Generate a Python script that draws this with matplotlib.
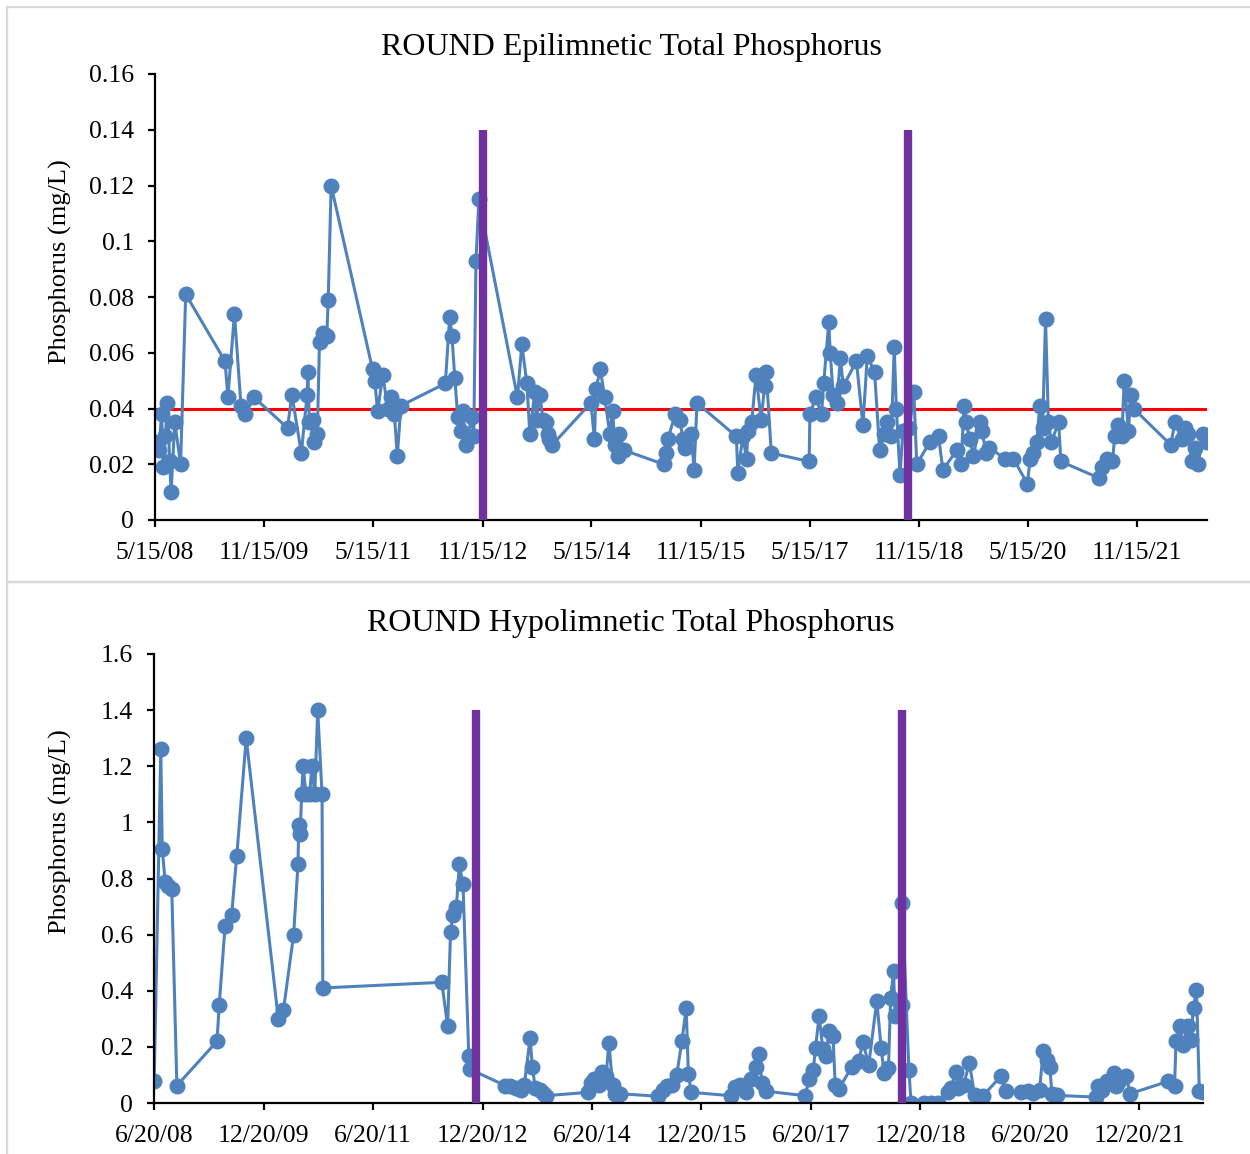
import numpy as np
import pandas as pd
import matplotlib
matplotlib.use('Agg')
import matplotlib.pyplot as plt
from matplotlib.patches import Rectangle
from matplotlib.ticker import FuncFormatter

plt.rcParams['font.family'] = ['Liberation Serif', 'DejaVu Serif']

# Epilimnetic TP: sampling date (decimal year) and value (mg/L)
epi_year = [2008.37, 2008.42, 2008.46, 2008.48, 2008.51, 2008.54, 2008.57, 2008.59, 2008.64, 2008.72, 2008.79,
            2009.33, 2009.37, 2009.46, 2009.55, 2009.61, 2009.73,
            2010.19, 2010.25, 2010.38, 2010.46, 2010.47, 2010.49, 2010.54, 2010.56, 2010.60, 2010.63, 2010.68,
            2010.73, 2010.75, 2010.79,
            2011.36, 2011.39, 2011.43, 2011.50, 2011.57, 2011.62, 2011.66, 2011.70, 2011.75,
            2012.36, 2012.42, 2012.45, 2012.49, 2012.53, 2012.57, 2012.60, 2012.65, 2012.72, 2012.75, 2012.78, 2012.82,
            2013.35, 2013.41, 2013.48, 2013.52, 2013.59, 2013.61, 2013.66, 2013.70, 2013.74, 2013.77, 2013.79, 2013.83,
            2014.36, 2014.41, 2014.43, 2014.49, 2014.55, 2014.62, 2014.66, 2014.69, 2014.73, 2014.75, 2014.82,
            2015.36, 2015.40, 2015.42, 2015.52, 2015.58, 2015.63, 2015.66, 2015.74, 2015.78, 2015.82,
            2016.36, 2016.38, 2016.45, 2016.50, 2016.52, 2016.57, 2016.63, 2016.70, 2016.75, 2016.77, 2016.84,
            2017.36, 2017.37, 2017.45, 2017.53, 2017.56, 2017.63, 2017.65, 2017.69, 2017.74, 2017.79, 2017.83,
            2018.01, 2018.10, 2018.16, 2018.26, 2018.33, 2018.39, 2018.43, 2018.49, 2018.53, 2018.56, 2018.61,
            2018.65, 2018.74, 2018.80, 2018.84,
            2019.02, 2019.14, 2019.20, 2019.39, 2019.45, 2019.49, 2019.52, 2019.57, 2019.62, 2019.71, 2019.74,
            2019.79, 2019.84,
            2020.05, 2020.17, 2020.36, 2020.40, 2020.44, 2020.49, 2020.53, 2020.57, 2020.61, 2020.65, 2020.69,
            2020.79, 2020.82,
            2021.35, 2021.38, 2021.45, 2021.53, 2021.56, 2021.61, 2021.66, 2021.69, 2021.75, 2021.78, 2021.82,
            2022.33, 2022.39, 2022.48, 2022.53, 2022.57, 2022.62, 2022.67, 2022.71, 2022.77, 2022.83]
epi_tp = [0.028, 0.025, 0.038, 0.019, 0.030, 0.042, 0.021, 0.010, 0.035, 0.020, 0.081,
          0.057, 0.044, 0.074, 0.041, 0.038, 0.044,
          0.033, 0.045, 0.024, 0.045, 0.053, 0.035, 0.036, 0.028, 0.031, 0.064, 0.067, 0.066, 0.079, 0.120,
          0.054, 0.050, 0.039, 0.052, 0.040, 0.044, 0.038, 0.023, 0.041,
          0.049, 0.073, 0.066, 0.051, 0.037, 0.032, 0.039, 0.027, 0.037, 0.030, 0.093, 0.115,
          0.044, 0.063, 0.049, 0.031, 0.046, 0.036, 0.045, 0.036, 0.035, 0.031, 0.029, 0.027,
          0.042, 0.029, 0.047, 0.054, 0.044, 0.031, 0.039, 0.027, 0.023, 0.031, 0.025,
          0.020, 0.024, 0.029, 0.038, 0.036, 0.029, 0.026, 0.031, 0.018, 0.042,
          0.030, 0.017, 0.030, 0.022, 0.032, 0.035, 0.052, 0.036, 0.048, 0.053, 0.024,
          0.021, 0.038, 0.044, 0.038, 0.049, 0.071, 0.060, 0.045, 0.042, 0.058, 0.048,
          0.057, 0.034, 0.059, 0.053, 0.025, 0.031, 0.035, 0.030, 0.062, 0.040, 0.016, 0.032, 0.033, 0.046, 0.020,
          0.028, 0.030, 0.018, 0.025, 0.020, 0.041, 0.035, 0.029, 0.023, 0.035, 0.032, 0.024, 0.026,
          0.022, 0.022, 0.013, 0.022, 0.024, 0.028, 0.041, 0.033, 0.072, 0.035, 0.028, 0.035, 0.021,
          0.015, 0.019, 0.022, 0.021, 0.030, 0.034, 0.030, 0.050, 0.032, 0.045, 0.040,
          0.027, 0.035, 0.029, 0.033, 0.031, 0.021, 0.026, 0.020, 0.031, 0.028]

# Hypolimnetic TP
hypo_year = [2008.47, 2008.56, 2008.58, 2008.62, 2008.66, 2008.71, 2008.78,
             2009.33, 2009.36, 2009.44, 2009.53, 2009.60, 2009.73,
             2010.17, 2010.24, 2010.38, 2010.44, 2010.45, 2010.47, 2010.49, 2010.51, 2010.55, 2010.60, 2010.63,
             2010.67, 2010.71, 2010.77, 2010.78,
             2012.41, 2012.49, 2012.53, 2012.56, 2012.61, 2012.65, 2012.70, 2012.78, 2012.80,
             2013.28, 2013.35, 2013.42, 2013.49, 2013.54, 2013.62, 2013.65, 2013.69, 2013.75, 2013.80, 2013.84,
             2014.41, 2014.45, 2014.50, 2014.56, 2014.61, 2014.66, 2014.70, 2014.75, 2014.79, 2014.85,
             2015.38, 2015.44, 2015.49, 2015.56, 2015.63, 2015.70, 2015.76, 2015.79, 2015.83,
             2016.37, 2016.43, 2016.50, 2016.58, 2016.65, 2016.72, 2016.75, 2016.80, 2016.85,
             2017.39, 2017.44, 2017.50, 2017.53, 2017.58, 2017.63, 2017.68, 2017.71, 2017.77, 2017.80, 2017.85,
             2018.03, 2018.12, 2018.18, 2018.26, 2018.37, 2018.43, 2018.47, 2018.53, 2018.56, 2018.60, 2018.62,
             2018.71, 2018.72, 2018.81, 2018.84,
             2019.02, 2019.11, 2019.21, 2019.34, 2019.39, 2019.45, 2019.49, 2019.56, 2019.64, 2019.71, 2019.82,
             2020.07, 2020.14, 2020.35, 2020.44, 2020.51, 2020.60, 2020.65, 2020.70, 2020.74, 2020.77, 2020.84,
             2021.37, 2021.40, 2021.46, 2021.53, 2021.62, 2021.65, 2021.69, 2021.79, 2021.84,
             2022.36, 2022.45, 2022.47, 2022.53, 2022.56, 2022.63, 2022.67, 2022.71, 2022.75, 2022.79, 2022.84]
hypo_tp = [0.077, 1.26, 0.905, 0.787, 0.775, 0.762, 0.062,
           0.22, 0.35, 0.63, 0.67, 0.88, 1.30,
           0.30, 0.33, 0.60, 0.85, 0.99, 0.96, 1.10, 1.20, 1.10, 1.10, 1.20, 1.10, 1.40, 1.10, 0.41,
           0.43, 0.275, 0.61, 0.67, 0.70, 0.85, 0.78, 0.166, 0.12,
           0.062, 0.059, 0.053, 0.047, 0.065, 0.231, 0.13, 0.053, 0.047, 0.036, 0.026,
           0.038, 0.071, 0.085, 0.065, 0.109, 0.095, 0.214, 0.065, 0.033, 0.033,
           0.024, 0.047, 0.059, 0.065, 0.10, 0.22, 0.338, 0.103, 0.038,
           0.026, 0.056, 0.063, 0.039, 0.085, 0.13, 0.174, 0.071, 0.042,
           0.026, 0.085, 0.119, 0.196, 0.311, 0.192, 0.166, 0.255, 0.237, 0.065, 0.05,
           0.13, 0.148, 0.216, 0.137, 0.364, 0.196, 0.107, 0.125, 0.374, 0.471, 0.309, 0.35, 0.712, 0.119, 0.0,
           0.0, 0.0, 0.0, 0.04, 0.053, 0.11, 0.053, 0.065, 0.142, 0.03, 0.024,
           0.095, 0.042, 0.039, 0.042, 0.036, 0.047, 0.184, 0.152, 0.127, 0.033, 0.027,
           0.021, 0.06, 0.047, 0.077, 0.107, 0.06, 0.077, 0.095, 0.033,
           0.077, 0.06, 0.222, 0.275, 0.208, 0.275, 0.226, 0.34, 0.404, 0.042, 0.04]

epi_ticks = ['5/15/08', '11/15/09', '5/15/11', '11/15/12', '5/15/14',
             '11/15/15', '5/15/17', '11/15/18', '5/15/20', '11/15/21']
hypo_ticks = ['6/20/08', '12/20/09', '6/20/11', '12/20/12', '6/20/14',
              '12/20/15', '6/20/17', '12/20/18', '6/20/20', '12/20/21']
event_year = [2012.88, 2018.72]
epi_target = 0.04


def to_date(yrs):
    out = []
    for y in yrs:
        yr = int(y)
        start = pd.Timestamp(yr, 1, 1)
        out.append(start + (pd.Timestamp(yr + 1, 1, 1) - start) * (y - yr))
    return out


fmt = FuncFormatter(lambda v, p: ('%.2f' % v).rstrip('0').rstrip('.'))

W, H = 1250, 1154
fig = plt.figure(figsize=(W / 100, H / 100), dpi=100)

# chart borders
for y0, y1 in [(7, 582), (582, 1250)]:
    fig.patches.append(Rectangle((7 / W, 1 - y1 / H), 1.2, (y1 - y0) / H, transform=fig.transFigure,
                                 fill=False, edgecolor='#d9d9d9', lw=1.6))

blue = '#4F81BD'


def panel(rect, years, vals, ticks, ymax, ystep, vline_top, xend, title, title_y, ylab_y, target=None):
    ax = fig.add_axes([rect[0] / W, 1 - rect[3] / H, (rect[2] - rect[0]) / W, (rect[3] - rect[1]) / H])
    tick_dates = pd.to_datetime(ticks, format='%m/%d/%y')
    if target is not None:
        ax.axhline(target, color='#FF0000', lw=2.2, zorder=1)
    ax.plot(to_date(years), vals, color=blue, lw=2.2, marker='o', ms=10.5, zorder=2)
    ax.vlines(to_date(event_year), 0, vline_top, color='#7030A0', lw=6, zorder=3)
    ax.set_xlim(tick_dates[0], to_date([xend])[0])
    ax.set_ylim(0, ymax)
    ax.set_yticks(np.arange(0, ymax + ystep / 2, ystep))
    ax.yaxis.set_major_formatter(fmt)
    ax.set_xticks(tick_dates)
    ax.set_xticklabels(ticks)
    for s in ['top', 'right']:
        ax.spines[s].set_visible(False)
    for s in ['left', 'bottom']:
        ax.spines[s].set_linewidth(1.6)
    ax.tick_params(axis='both', direction='out', length=5, width=1.6, labelsize=18.5)
    ax.tick_params(axis='x', pad=11)
    ax.tick_params(axis='y', pad=10)
    fig.text(631 / W, 1 - title_y / H, title, ha='center', va='center', fontsize=23)
    fig.text(60 / W, 1 - ylab_y / H, 'Phosphorus (mg/L)', ha='center', va='center',
             rotation=90, fontsize=19)
    return ax


panel((155, 74, 1207, 520), epi_year, epi_tp, epi_ticks, 0.16, 0.02, 0.14, 2022.83,
      'ROUND Epilimnetic Total Phosphorus', 47, 262, target=epi_target)
panel((154, 654, 1203, 1103), hypo_year, hypo_tp, hypo_ticks, 1.6, 0.2, 1.4, 2022.84,
      'ROUND Hypolimnetic Total Phosphorus', 623, 832)

fig.savefig('out.png', dpi=100, facecolor='white')
